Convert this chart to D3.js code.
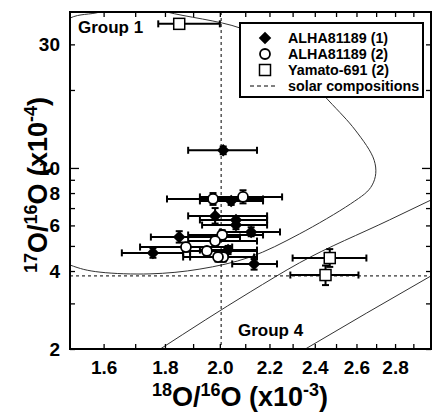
<!DOCTYPE html>
<html>
<head>
<meta charset="utf-8">
<script src="https://cdn.jsdelivr.net/npm/d3@7"></script>
<style>
  body { margin: 0; background: #fff; }
  text { font-family: "Liberation Sans", Arial, sans-serif; font-weight: bold; }
</style>
</head>
<body>
<div id="chart"></div>
<script>
// values (17O/16O in 1e-4, 18O/16O in 1e-3)
const xTickLabels = [1.6, 1.8, 2.0, 2.2, 2.4, 2.6, 2.8]
const xTickMinor = [1.7, 1.9, 2.1, 2.3, 2.5, 2.7, 2.9]
const yTickLabels = [2, 4, 6, 8, 10, 30]
const yTickMinor = [3, 5, 7, 9, 20]
const solar = { x: 2.005, y: 3.83 }

// ALHA81189 (1) - filled diamonds
const alha1X = [2.013, 2.044, 1.982, 2.063, 2.063, 2.124, 1.850, 1.759, 2.032, 2.136]
const alha1XLo = [1.882, 1.925, 1.882, 1.925, 1.933, 2.001, 1.752, 1.657, 1.925, 2.048]
const alha1XHi = [2.148, 2.173, 2.190, 2.190, 2.190, 2.245, 2.079, 1.864, 2.148, 2.232]
const alha1Y = [11.7, 7.46, 6.53, 6.30, 6.02, 5.66, 5.41, 4.70, 4.82, 4.26]
const alha1YLo = [11.3, 7.2, 6.1, 6.1, 5.8, 5.45, 5.15, 4.5, 4.65, 4.05]
const alha1YHi = [12.1, 7.7, 7.0, 6.5, 6.25, 5.9, 5.7, 4.9, 5.0, 4.45]

// ALHA81189 (2) - open circles
const alha2X = [1.974, 2.091, 2.009, 1.982, 1.874, 1.951, 2.013, 1.993]
const alha2XLo = [1.807, 1.925, 1.882, 1.882, 1.716, 1.889, 1.889, 1.864]
const alha2XHi = [2.173, 2.254, 2.173, 2.148, 2.048, 2.148, 2.148, 2.136]
const alha2Y = [7.59, 7.73, 5.51, 5.22, 4.95, 4.78, 4.53, 4.53]
const alha2YLo = [7.2, 7.3, 5.3, 5.0, 4.75, 4.6, 4.35, 4.35]
const alha2YHi = [8.0, 8.2, 5.75, 5.45, 5.15, 4.95, 4.7, 4.7]

// Yamato-691 (2) - open squares
const yamX = [1.85, 2.47, 2.45]
const yamXLo = [1.777, 2.30, 2.29]
const yamXHi = [2.0, 2.65, 2.61]
const yamY = [36, 4.49, 3.86]
const yamYLo = [35, 4.15, 3.53]
const yamYHi = [37, 4.86, 4.2]

// Group 1 boundary, traced round the picture
const group1X = [1.362, 1.416, 1.5, 1.589, 1.70, 1.807, 2.079, 2.267, 2.462, 2.594, 2.69, 2.68, 2.57, 2.33, 2.12, 1.925, 1.749, 1.589, 1.5, 1.416]
const group1Y = [11.7, 31.2, 37.9, 40, 44.5, 40, 34.7, 27.3, 18.3, 14.0, 10.7, 8.6, 7.26, 5.56, 4.53, 4.07, 3.90, 3.96, 4.22, 4.82]
// Group 4 lines
const group4aX = [1.784, 2.12, 2.33, 2.77, 3.0]
const group4aY = [2.0, 3.32, 4.30, 6.30, 7.52]
const group4bX = [2.357, 2.65, 3.0]
const group4bY = [2.0, 2.75, 3.83]

const legendLabels = ["ALHA81189 (1)", "ALHA81189 (2)", "Yamato-691 (2)", "solar compositions"]

const margin = { top: 12, right: 2, bottom: 64, left: 70 }
const width = 433 - margin.left - margin.right
const height = 413 - margin.top - margin.bottom

const root = d3.select("#chart").append("svg")
  .attr("width", 433)
  .attr("height", 413)
const svg = root.append("g")
  .attr("transform", "translate(" + margin.left + "," + margin.top + ")")

const x = d3.scaleLog().domain([1.5, 3.0]).range([0, width])
const y = d3.scaleLog().domain([2, 40]).range([height, 0])

svg.append("clipPath").attr("id", "plot")
  .append("rect").attr("width", width).attr("height", height)

const plot = svg.append("g").attr("clip-path", "url(#plot)")

// curves
const pts = (xs, ys) => xs.map((d, i) => [x(d), y(ys[i])])
plot.append("path")
  .attr("d", d3.line().curve(d3.curveCardinalClosed)(pts(group1X, group1Y)))
  .attr("fill", "none").attr("stroke", "#333").attr("stroke-width", 1)
plot.append("path")
  .attr("d", d3.line().curve(d3.curveMonotoneX)(pts(group4aX, group4aY)))
  .attr("fill", "none").attr("stroke", "#333").attr("stroke-width", 1)
plot.append("path")
  .attr("d", d3.line().curve(d3.curveMonotoneX)(pts(group4bX, group4bY)))
  .attr("fill", "none").attr("stroke", "#333").attr("stroke-width", 1)

// solar composition lines
plot.append("line")
  .attr("x1", x(solar.x)).attr("x2", x(solar.x)).attr("y1", 0).attr("y2", height)
  .attr("stroke", "#000").attr("stroke-dasharray", "3,3")
plot.append("line")
  .attr("x1", 0).attr("x2", width).attr("y1", y(solar.y)).attr("y2", y(solar.y))
  .attr("stroke", "#000").attr("stroke-dasharray", "3,3")

// build rows for each series
function rows (xs, xlo, xhi, ys, ylo, yhi) {
  return xs.map((d, i) => ({ x: d, xlo: xlo[i], xhi: xhi[i], y: ys[i], ylo: ylo[i], yhi: yhi[i] }))
}
const alha1 = rows(alha1X, alha1XLo, alha1XHi, alha1Y, alha1YLo, alha1YHi)
const alha2 = rows(alha2X, alha2XLo, alha2XHi, alha2Y, alha2YLo, alha2YHi)
const yam = rows(yamX, yamXLo, yamXHi, yamY, yamYLo, yamYHi)

function errorBars (data) {
  const g = plot.append("g").attr("stroke", "#000").attr("stroke-width", 2)
  data.forEach(d => {
    g.append("line").attr("x1", x(d.xlo)).attr("x2", x(d.xhi)).attr("y1", y(d.y)).attr("y2", y(d.y))
    g.append("line").attr("x1", x(d.xlo)).attr("x2", x(d.xlo)).attr("y1", y(d.y) - 3.5).attr("y2", y(d.y) + 3.5)
    g.append("line").attr("x1", x(d.xhi)).attr("x2", x(d.xhi)).attr("y1", y(d.y) - 3.5).attr("y2", y(d.y) + 3.5)
    g.append("line").attr("x1", x(d.x)).attr("x2", x(d.x)).attr("y1", y(d.ylo)).attr("y2", y(d.yhi))
    g.append("line").attr("x1", x(d.x) - 3.5).attr("x2", x(d.x) + 3.5).attr("y1", y(d.ylo)).attr("y2", y(d.ylo))
    g.append("line").attr("x1", x(d.x) - 3.5).attr("x2", x(d.x) + 3.5).attr("y1", y(d.yhi)).attr("y2", y(d.yhi))
  })
}
errorBars(alha1)
errorBars(alha2)
errorBars(yam)

const diamond = d3.symbol().type(d3.symbolDiamond2).size(100)
plot.selectAll(".dia")
  .data(alha1)
  .join("path")
  .attr("class", "dia")
  .attr("d", diamond)
  .attr("transform", d => `translate(${x(d.x)},${y(d.y)})`)
  .attr("fill", "#000")
plot.selectAll(".circ")
  .data(alha2)
  .join("circle")
  .attr("class", "circ")
  .attr("r", 5)
  .attr("cx", d => x(d.x))
  .attr("cy", d => y(d.y))
  .attr("fill", "#fff").attr("stroke", "#000").attr("stroke-width", 1.8)
plot.selectAll(".sq")
  .data(yam)
  .join("rect")
  .attr("class", "sq")
  .attr("x", d => x(d.x) - 5.5).attr("y", d => y(d.y) - 5.5)
  .attr("width", 11).attr("height", 11)
  .attr("fill", "#fff").attr("stroke", "#000").attr("stroke-width", 1.5)

// axes, ticks pointing in
function styleAxis (g) {
  g.select(".domain").remove()
  g.selectAll("line").attr("stroke", "#000").attr("stroke-width", 1.3)
  g.selectAll("text").attr("font-size", 19).attr("fill", "#000")
}
svg.append("g").attr("transform", `translate(0,${height})`)
  .call(d3.axisBottom(x).tickValues(xTickLabels).tickFormat(d3.format(".1f")).tickSize(-5).tickPadding(12))
  .call(styleAxis)
svg.append("g").attr("transform", `translate(0,${height})`)
  .call(d3.axisBottom(x).tickValues(xTickMinor).tickFormat("").tickSize(-5))
  .call(styleAxis)
svg.append("g")
  .call(d3.axisTop(x).tickValues(xTickLabels.concat(xTickMinor)).tickFormat("").tickSize(-5))
  .call(styleAxis)
svg.append("g")
  .call(d3.axisLeft(y).tickValues(yTickLabels).tickFormat(d3.format("d")).tickSize(-5).tickPadding(10))
  .call(styleAxis)
  .call(g => g.selectAll(".tick").filter(d => d === 10).select("line").attr("x2", 9))
svg.append("g")
  .call(d3.axisLeft(y).tickValues(yTickMinor).tickFormat("").tickSize(-5))
  .call(styleAxis)
svg.append("g").attr("transform", `translate(${width},0)`)
  .call(d3.axisRight(y).tickValues(yTickLabels.concat(yTickMinor)).tickFormat("").tickSize(-5))
  .call(styleAxis)
  .call(g => g.selectAll(".tick").filter(d => d === 10).select("line").attr("x2", -9))

svg.append("rect")
  .attr("width", width).attr("height", height)
  .attr("fill", "none").attr("stroke", "#000").attr("stroke-width", 2)

// group labels
svg.append("text").attr("x", 8).attr("y", 21).attr("font-size", 17).text("Group 1")
svg.append("text").attr("x", 168).attr("y", 324).attr("font-size", 17).text("Group 4")

// legend
const legend = svg.append("g").attr("transform", "translate(170,11)")
legend.append("rect").attr("width", 183).attr("height", 74)
  .attr("fill", "#fff").attr("stroke", "#000").attr("stroke-width", 2)
const ly = d3.scalePoint().domain(legendLabels).range([15, 63])
legend.selectAll("text")
  .data(legendLabels)
  .join("text")
  .attr("x", 48)
  .attr("y", d => ly(d) + 5)
  .attr("font-size", 14.3)
  .text(d => d)
legend.append("path").attr("d", diamond)
  .attr("transform", `translate(25,${ly(legendLabels[0])})`).attr("fill", "#000")
legend.append("circle").attr("cx", 25).attr("cy", ly(legendLabels[1])).attr("r", 5)
  .attr("fill", "#fff").attr("stroke", "#000").attr("stroke-width", 1.8)
legend.append("rect").attr("x", 19.5).attr("y", ly(legendLabels[2]) - 5.5).attr("width", 11).attr("height", 11)
  .attr("fill", "#fff").attr("stroke", "#000").attr("stroke-width", 1.5)
legend.append("line").attr("x1", 10).attr("x2", 38)
  .attr("y1", ly(legendLabels[3])).attr("y2", ly(legendLabels[3]))
  .attr("stroke", "#000").attr("stroke-dasharray", "4,3")

// axis titles
const xt = root.append("text").attr("x", 240).attr("y", 406)
  .attr("text-anchor", "middle").attr("font-size", 27)
xt.append("tspan").attr("font-size", 18).attr("dy", -10).text("18")
xt.append("tspan").attr("dy", 10).text("O/")
xt.append("tspan").attr("font-size", 18).attr("dy", -10).text("16")
xt.append("tspan").attr("dy", 10).text("O (x10")
xt.append("tspan").attr("font-size", 18).attr("dy", -10).text("-3")
xt.append("tspan").attr("dy", 10).text(")")

const yt = root.append("text")
  .attr("transform", `translate(47,185) rotate(-90)`)
  .attr("text-anchor", "middle").attr("font-size", 27)
yt.append("tspan").attr("font-size", 18).attr("dy", -10).text("17")
yt.append("tspan").attr("dy", 10).text("O/")
yt.append("tspan").attr("font-size", 18).attr("dy", -10).text("16")
yt.append("tspan").attr("dy", 10).text("O (x10")
yt.append("tspan").attr("font-size", 18).attr("dy", -10).text("-4")
yt.append("tspan").attr("dy", 10).text(")")
</script>
</body>
</html>
